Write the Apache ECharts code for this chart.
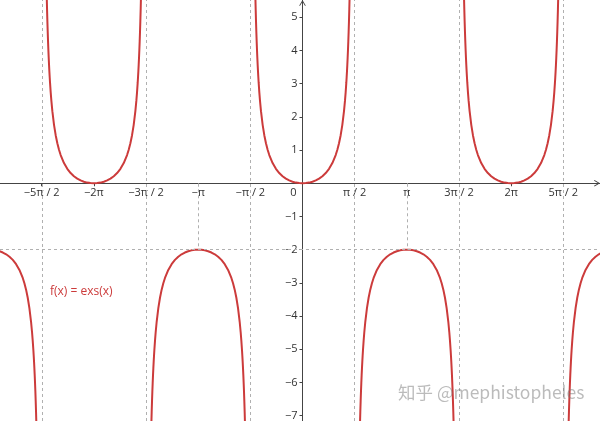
<!DOCTYPE html>
<html>
<head>
<meta charset="utf-8">
<script src="https://cdn.jsdelivr.net/npm/echarts@6/dist/echarts.min.js"></script>
<style>
html,body{margin:0;padding:0;background:#fff;}
#chart{width:600px;height:421px;}
</style>
</head>
<body>
<div id="chart"></div>
<script>
// Half-branch sample offsets (distance from branch centre)
var halfOffsets = [0, 0.1, 0.2, 0.3, 0.4, 0.5, 0.6, 0.7, 0.8, 0.9, 1.0, 1.05, 1.1, 1.15, 1.2, 1.25, 1.28, 1.30, 1.32, 1.33, 1.34, 1.35, 1.36, 1.37, 1.38, 1.39, 1.40, 1.41, 1.42, 1.43, 1.44];
// Upward branch values (minimum 0)
var upperBranchValues = [0, 0.00502, 0.02034, 0.04675, 0.08570, 0.13949, 0.21163, 0.30746, 0.43532, 0.60872, 0.85082, 1.00976, 1.20461, 1.44806, 1.75970, 2.17136, 2.48779, 2.73834, 3.02942, 3.19329, 3.37153, 3.56608, 3.77923, 4.01379, 4.27322, 4.56134, 4.88349, 5.24594, 5.65665, 6.12601, 6.66730];
// Downward branch values (maximum -2)
var lowerBranchValues = [-2, -2.00502, -2.02034, -2.04675, -2.08570, -2.13949, -2.21163, -2.30746, -2.43532, -2.60872, -2.85082, -3.00976, -3.20461, -3.44806, -3.75970, -4.17136, -4.48779, -4.73834, -5.02942, -5.19329, -5.37153, -5.56608, -5.77923, -6.01379, -6.27322, -6.56134, -6.88349, -7.24594, -7.65665, -8.12601, -8.66730];
var PI = Math.PI;
var upperCenters = [-2 * PI, 0, 2 * PI];
var lowerCenters = [-3 * PI, -PI, PI, 3 * PI];
var asymptotes = [-5 * PI / 2, -3 * PI / 2, -PI / 2, PI / 2, 3 * PI / 2, 5 * PI / 2];
var extremumGuides = [-PI, PI];
var guideLevel = -2;
var xTickValues = [-5 * PI / 2, -2 * PI, -3 * PI / 2, -PI, -PI / 2, 0, PI / 2, PI, 3 * PI / 2, 2 * PI, 5 * PI / 2];
var xTickLabels = ['\u22125\u03c0 / 2', '\u22122\u03c0', '\u22123\u03c0 / 2', '\u2212\u03c0', '\u2212\u03c0 / 2', '0', '\u03c0 / 2', '\u03c0', '3\u03c0 / 2', '2\u03c0', '5\u03c0 / 2'];
var yTickValues = [-7, -6, -5, -4, -3, -2, -1, 1, 2, 3, 4, 5];
var funcLabel = 'f(x) = exs(x)';
var watermark = '\u77e5\u4e4e @mephistopheles';

var X_MIN = -9.11, X_MAX = 8.96, Y_MIN = -7.16, Y_MAX = 5.52;
var W = 600, H = 421;
var RED = '#cc3b3b';
function branch(center, vals) {
  var pts = [];
  for (var i = halfOffsets.length - 1; i > 0; i--) pts.push([center - halfOffsets[i], vals[i]]);
  for (var j = 0; j < halfOffsets.length; j++) pts.push([center + halfOffsets[j], vals[j]]);
  return pts;
}
var series = [];
series.push({
  type: 'line', data: [], silent: true, z: 1,
  markLine: {
    silent: true, symbol: ['none', 'none'], animation: false,
    label: {show: false},
    lineStyle: {type: [3, 3], color: '#b0b0b0', width: 1},
    data: asymptotes.map(function (v) { return {xAxis: v}; })
      .concat([{yAxis: guideLevel}])
      .concat(extremumGuides.map(function (v) { return [{coord: [v, 0]}, {coord: [v, guideLevel]}]; }))
  }
});
upperCenters.forEach(function (c) {
  series.push({type: 'line', data: branch(c, upperBranchValues), showSymbol: false, symbol: 'none', clip: true, z: 3,
    lineStyle: {color: RED, width: 2}, silent: true, animation: false});
});
lowerCenters.forEach(function (c) {
  series.push({type: 'line', data: branch(c, lowerBranchValues), showSymbol: false, symbol: 'none', clip: true, z: 3,
    lineStyle: {color: RED, width: 2}, silent: true, animation: false});
});

// axis placement through the origin (offset from the grid edge)
var xAxisOffset = -(H * (0 - Y_MIN) / (Y_MAX - Y_MIN));
var yAxisOffset = -(W * (0 - X_MIN) / (X_MAX - X_MIN));

var chevron = 'path://M5 0L10 8.5L9 9.3L5 2.6L1 9.3L0 8.5Z';
var chart = echarts.init(document.getElementById('chart'));
chart.setOption({
  animation: false,
  grid: {left: 0, right: 0, top: 0, bottom: 0, containLabel: false, outerBoundsMode: 'none'},
  xAxis: {
    type: 'value', min: X_MIN, max: X_MAX, position: 'bottom', offset: xAxisOffset,
    splitLine: {show: false},
    axisLine: {onZero: false, lineStyle: {color: '#444', width: 1}, symbol: ['none', chevron], symbolSize: [8, 6], symbolOffset: [0, -3]},
    axisTick: {show: true, customValues: xTickValues, length: 3, lineStyle: {color: '#444'}},
    axisLabel: {
      customValues: xTickValues, margin: 4, color: '#333', fontSize: 11, fontFamily: 'Open Sans',
      formatter: function (v) {
        var idx = -1;
        for (var i = 0; i < xTickValues.length; i++) if (Math.abs(xTickValues[i] - v) < 1e-6) idx = i;
        if (idx < 0) return '';
        if (Math.abs(v) < 1e-9) return '{o|' + xTickLabels[idx] + '}';
        return xTickLabels[idx];
      },
      rich: {o: {padding: [0, 18, 0, 0], fontSize: 11, fontFamily: 'Open Sans', color: '#333'}}
    }
  },
  yAxis: {
    type: 'value', min: Y_MIN, max: Y_MAX, position: 'left', offset: yAxisOffset,
    splitLine: {show: false},
    axisLine: {onZero: false, lineStyle: {color: '#444', width: 1}, symbol: ['none', chevron], symbolSize: [8, 6], symbolOffset: [0, -3]},
    axisTick: {show: true, customValues: yTickValues, length: 3, lineStyle: {color: '#444'}},
    axisLabel: {
      customValues: yTickValues, margin: 5, color: '#333', fontSize: 11, fontFamily: 'Open Sans',
      formatter: function (v) { return v < 0 ? '\u2212' + Math.abs(v) : String(v); }
    }
  },
  series: series,
  graphic: [
    {type: 'text', left: 50, top: 286, silent: true,
      style: {text: funcLabel, fill: RED, font: '12px "Open Sans"'}},
    {type: 'text', left: 398, top: 384, silent: true, z: 100,
      style: {text: watermark, fill: 'rgba(120,120,120,0.5)', font: '17.5px "Noto Sans CJK SC"'}}
  ]
});
</script>
</body>
</html>
